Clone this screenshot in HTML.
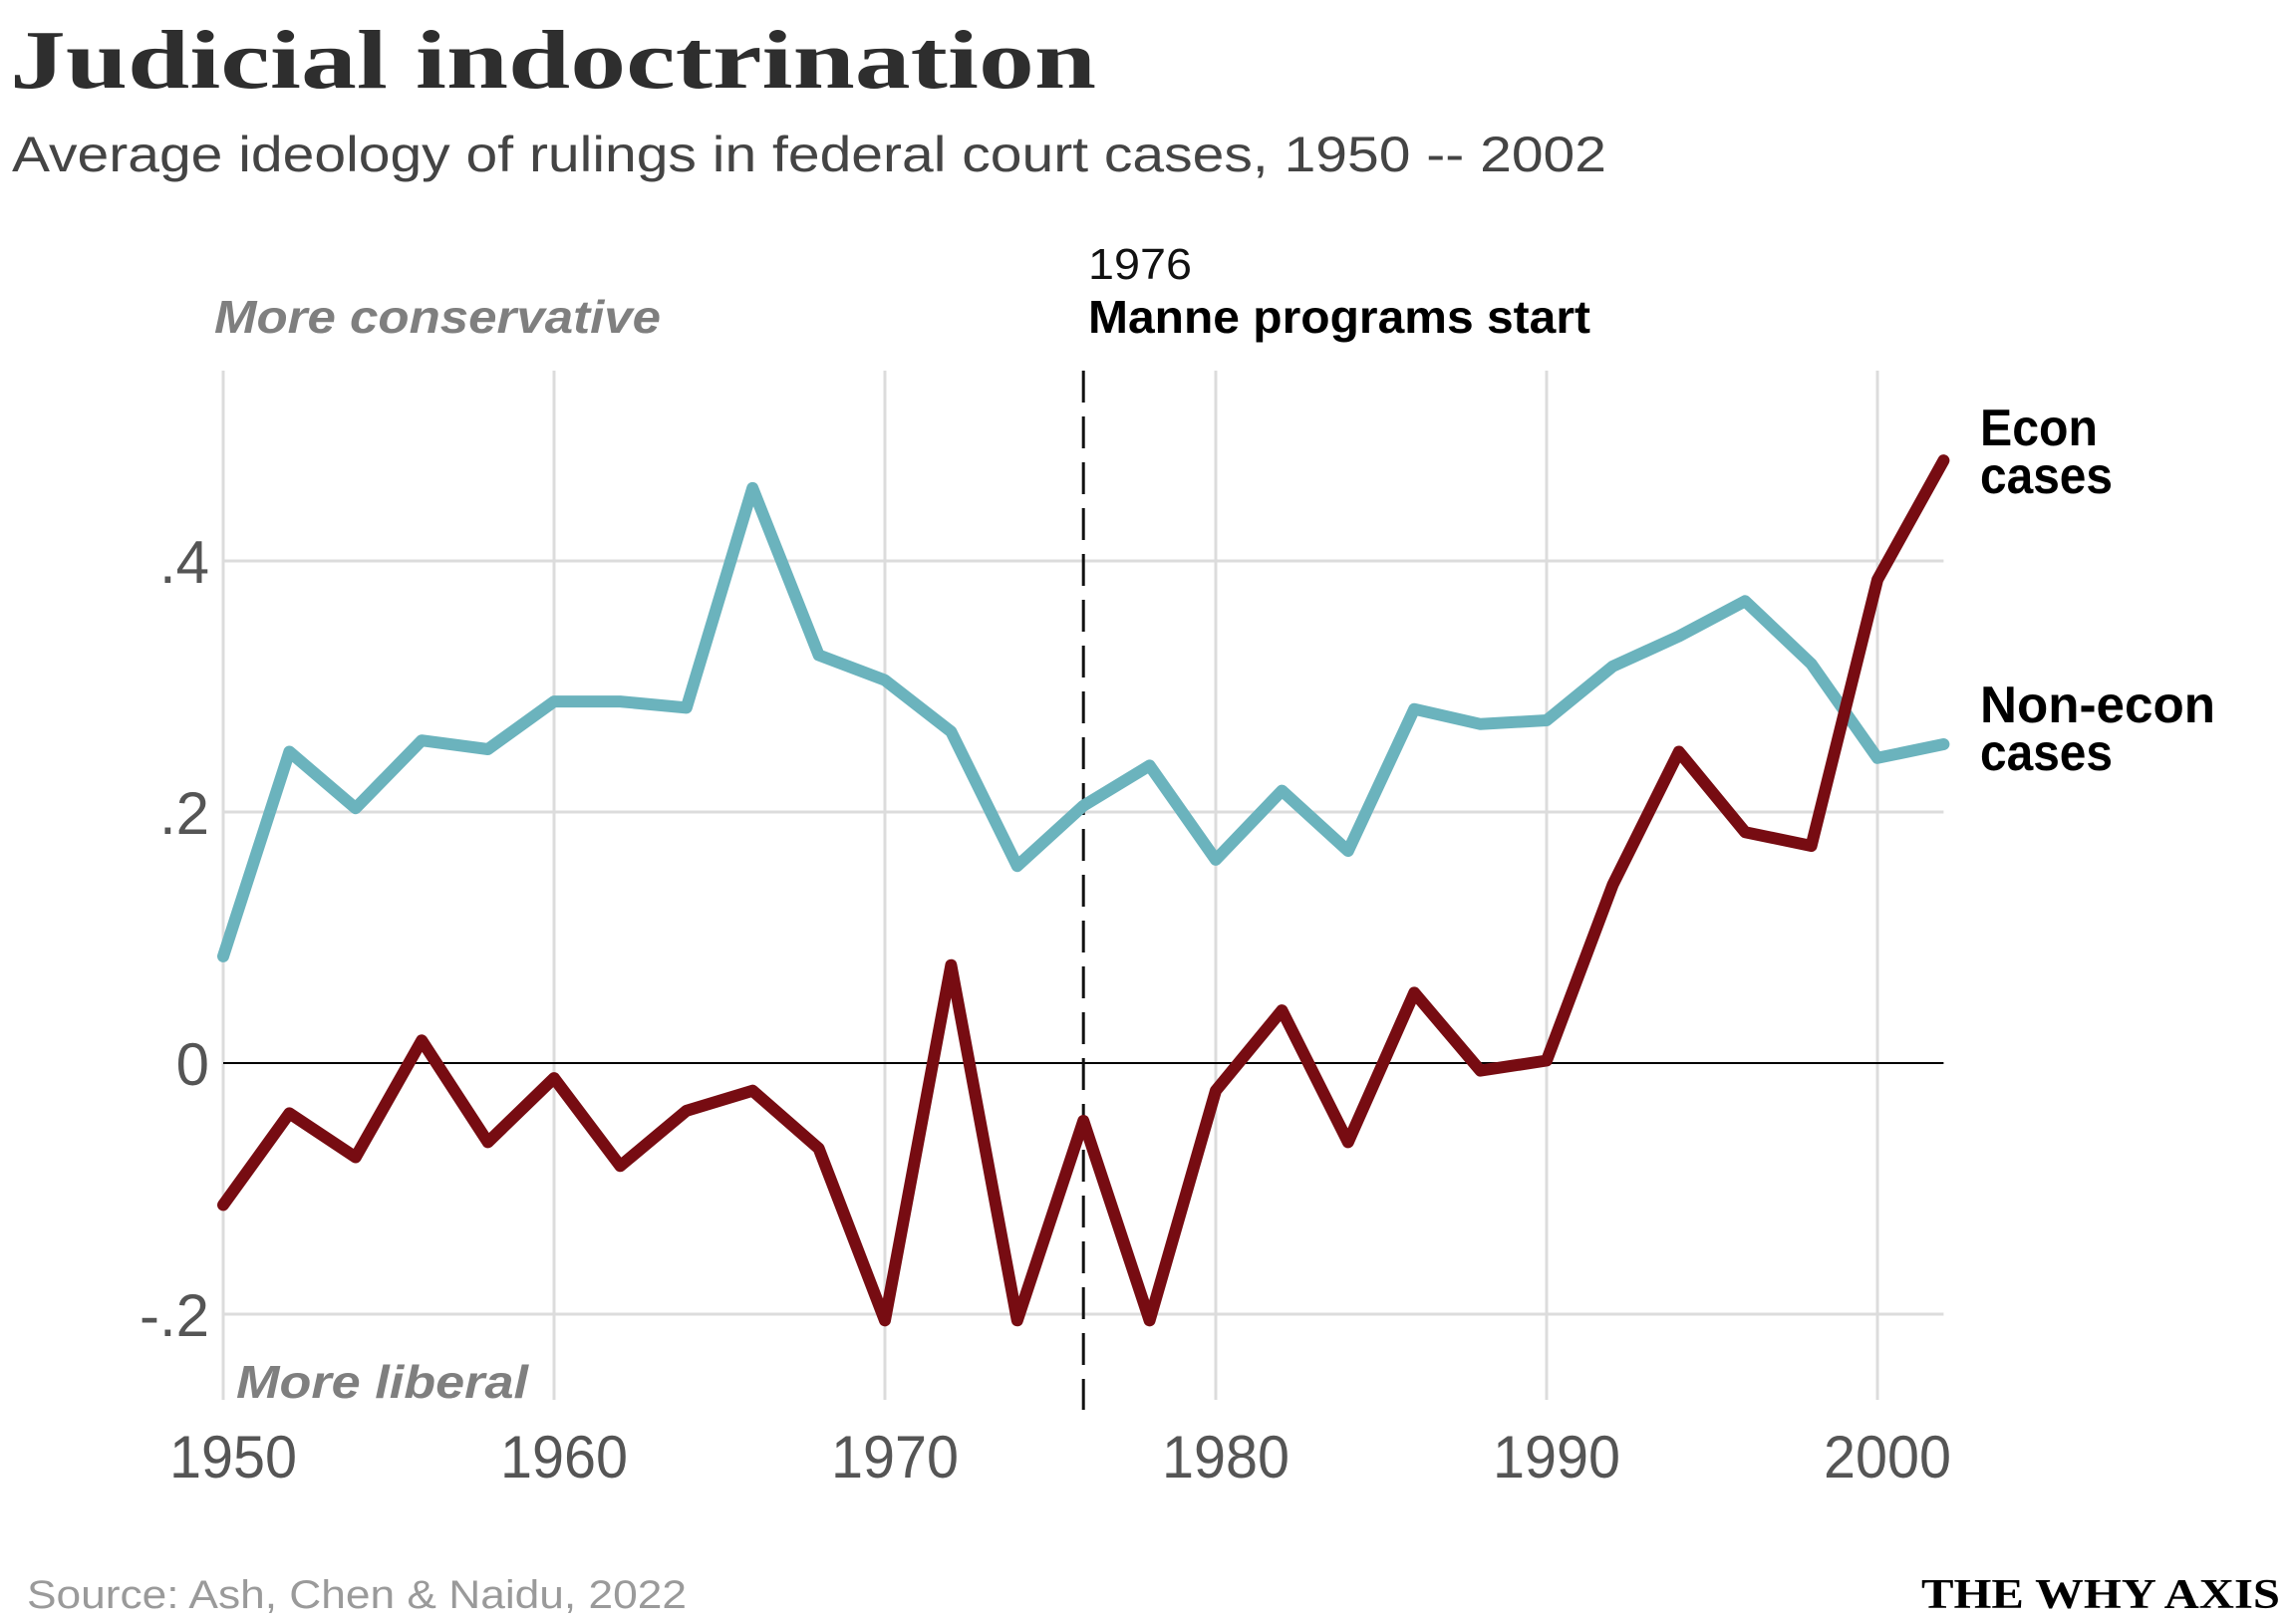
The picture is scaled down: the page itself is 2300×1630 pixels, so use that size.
<!DOCTYPE html>
<html><head><meta charset="utf-8"><style>
html,body{margin:0;padding:0;background:#fff;}
svg{display:block;font-family:"Liberation Sans",sans-serif;}
</style></head><body>
<svg id="chart" width="2300" height="1630" viewBox="0 0 2300 1630" xmlns="http://www.w3.org/2000/svg">
<text x="10" y="88" font-family="Liberation Serif, serif" font-weight="bold" font-size="84" fill="#2e2e2e" textLength="1090" lengthAdjust="spacingAndGlyphs">Judicial indoctrination</text>
<text x="12" y="172" font-size="50" fill="#444" textLength="1600" lengthAdjust="spacingAndGlyphs">Average ideology of rulings in federal court cases, 1950 -- 2002</text>
<g id="grid"></g>
<g id="axes"></g>
<g id="series"></g>
<text x="215" y="334" font-size="46" font-style="italic" font-weight="bold" fill="#7f7f7f" textLength="448" lengthAdjust="spacingAndGlyphs">More conservative</text>
<text x="237" y="1403" font-size="46" font-style="italic" font-weight="bold" fill="#7f7f7f" textLength="293" lengthAdjust="spacingAndGlyphs">More liberal</text>
<text x="1092" y="280" font-size="44" fill="#111" textLength="104" lengthAdjust="spacingAndGlyphs">1976</text>
<text x="1092" y="334" font-size="46" font-weight="bold" fill="#000" textLength="504" lengthAdjust="spacingAndGlyphs">Manne programs start</text>
<text font-size="52" font-weight="bold" fill="#000"><tspan x="1987" y="447" textLength="118" lengthAdjust="spacingAndGlyphs">Econ</tspan><tspan x="1987" y="495" textLength="133" lengthAdjust="spacingAndGlyphs">cases</tspan></text>
<text font-size="52" font-weight="bold" fill="#000"><tspan x="1987" y="725" textLength="236" lengthAdjust="spacingAndGlyphs">Non-econ</tspan><tspan x="1987" y="773" textLength="133" lengthAdjust="spacingAndGlyphs">cases</tspan></text>
<text x="27" y="1614" font-size="40" fill="#9a9a9a" textLength="662" lengthAdjust="spacingAndGlyphs">Source: Ash, Chen &amp; Naidu, 2022</text>
<text x="2288" y="1614" text-anchor="end" font-family="Liberation Serif, serif" font-weight="bold" font-size="42" fill="#000" textLength="360" lengthAdjust="spacingAndGlyphs">THE WHY AXIS</text>
</svg>
<script>
const years = [1950,1952,1954,1956,1958,1960,1962,1964,1966,1968,1970,1972,1974,1976,1978,1980,1982,1984,1986,1988,1990,1992,1994,1996,1998,2000,2002];
const nonEcon = [0.085,0.248,0.203,0.257,0.25,0.288,0.288,0.283,0.458,0.325,0.305,0.264,0.157,0.205,0.237,0.162,0.217,0.169,0.282,0.27,0.273,0.316,0.34,0.368,0.318,0.243,0.254];
const econ = [-0.113,-0.04,-0.075,0.018,-0.063,-0.012,-0.082,-0.038,-0.022,-0.068,-0.205,0.078,-0.205,-0.046,-0.205,-0.022,0.042,-0.063,0.056,-0.006,0.002,0.142,0.248,0.184,0.173,0.385,0.48];
const xTicks = [1950,1960,1970,1980,1990,2000];
const yTicks = [-0.2,0,0.2,0.4];
const yTickLabels = ["-.2","0",".2",".4"];
const markerYear = 1976;

const NS="http://www.w3.org/2000/svg";
const X = y => 224 + (y-1950)*33.2;
const Y = v => 1067 - v*1260;
const TOP=372, BOT=1405, RIGHT=X(2002);
function mk(tag,attrs,parent){const e=document.createElementNS(NS,tag);for(const k in attrs)e.setAttribute(k,attrs[k]);parent.appendChild(e);return e;}
const grid=document.getElementById('grid'), axes=document.getElementById('axes'), series=document.getElementById('series');
xTicks.forEach(t=>{
  const l=mk('line',{x1:X(t),x2:X(t),y1:TOP,y2:BOT,stroke:'#dcdcdc','stroke-width':3},grid);
  
  
  const tx=mk('text',{x:X(t)+10,y:1483,'text-anchor':'middle','font-size':60,fill:'#555',textLength:128,lengthAdjust:'spacingAndGlyphs'},axes);
  tx.textContent=t;
  
  
});
yTicks.forEach((t,i)=>{
  const l=mk('line',{x1:X(1950),x2:RIGHT,y1:Y(t),y2:Y(t),stroke:t===0?'#000':'#dcdcdc','stroke-width':t===0?2:3},grid);
  
  
  const tx=mk('text',{x:210,y:Y(t)+22,'text-anchor':'end','font-size':60,fill:'#555'},axes);
  tx.textContent=yTickLabels[i];
  
  
});
const dl=mk('line',{x1:X(markerYear),x2:X(markerYear),y1:TOP,y2:BOT+10,stroke:'#111','stroke-width':3,'stroke-dasharray':'32 14'},grid);


function pts(vals){return vals.map((v,i)=>X(years[i]).toFixed(1)+','+Y(v).toFixed(1)).join(' ');}
const p1=mk('polyline',{points:pts(nonEcon),fill:'none',stroke:'#6bb3bd','stroke-width':12,'stroke-linejoin':'round','stroke-linecap':'round'},series);


const p2=mk('polyline',{points:pts(econ),fill:'none',stroke:'#770c12','stroke-width':12,'stroke-linejoin':'round','stroke-linecap':'round'},series);


</script>
</body></html>
